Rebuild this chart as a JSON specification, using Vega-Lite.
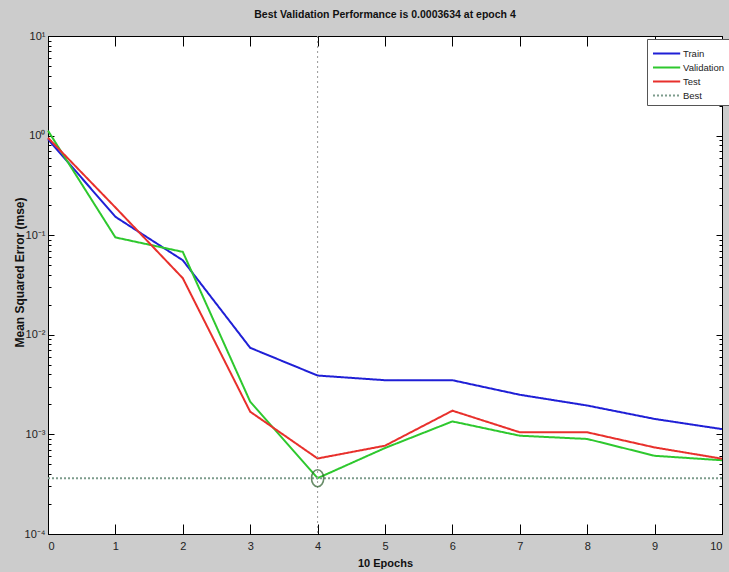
{
  "$schema": "https://vega.github.io/schema/vega-lite/v6.json",
  "width": 674,
  "height": 498,
  "autosize": {"type": "none"},
  "padding": {"left": 48, "top": 36, "right": 7, "bottom": 38},
  "background": "#cccccc",
  "view": {"fill": "white", "stroke": "black", "strokeWidth": 1},
  "config": {
    "font": "'Liberation Sans Narrow', 'Liberation Sans', Arial, sans-serif",
    "axis": {
      "grid": false,
      "domainColor": "black",
      "tickColor": "black",
      "labelColor": "#222222",
      "labelFontSize": 11,
      "titleColor": "#111111",
      "titleFontWeight": "bold",
      "titleFontSize": 11,
      "titleFont": "'Liberation Sans', Arial, sans-serif"
    },
    "legend": {
      "fillColor": "white",
      "strokeColor": "#555555",
      "padding": 5,
      "rowPadding": 0,
      "labelFontSize": 9.5,
      "labelColor": "#222222",
      "symbolStrokeWidth": 2
    }
  },
  "title": {
    "text": "Best Validation Performance is 0.0003634 at epoch 4",
    "fontSize": 10.5,
    "fontWeight": "bold",
    "color": "#111111",
    "offset": 10,
    "anchor": "middle"
  },
  "datasets": {
    "performance": [
      {"epoch": 0, "mse": 0.92, "series": "Train"},
      {"epoch": 1, "mse": 0.153, "series": "Train"},
      {"epoch": 2, "mse": 0.056, "series": "Train"},
      {"epoch": 3, "mse": 0.0074, "series": "Train"},
      {"epoch": 4, "mse": 0.0039, "series": "Train"},
      {"epoch": 5, "mse": 0.0035, "series": "Train"},
      {"epoch": 6, "mse": 0.0035, "series": "Train"},
      {"epoch": 7, "mse": 0.0025, "series": "Train"},
      {"epoch": 8, "mse": 0.00195, "series": "Train"},
      {"epoch": 9, "mse": 0.00143, "series": "Train"},
      {"epoch": 10, "mse": 0.00113, "series": "Train"},
      {"epoch": 0, "mse": 1.12, "series": "Validation"},
      {"epoch": 1, "mse": 0.095, "series": "Validation"},
      {"epoch": 2, "mse": 0.068, "series": "Validation"},
      {"epoch": 3, "mse": 0.00213, "series": "Validation"},
      {"epoch": 4, "mse": 0.0003634, "series": "Validation"},
      {"epoch": 5, "mse": 0.00073, "series": "Validation"},
      {"epoch": 6, "mse": 0.00135, "series": "Validation"},
      {"epoch": 7, "mse": 0.00097, "series": "Validation"},
      {"epoch": 8, "mse": 0.0009, "series": "Validation"},
      {"epoch": 9, "mse": 0.00061, "series": "Validation"},
      {"epoch": 10, "mse": 0.00055, "series": "Validation"},
      {"epoch": 0, "mse": 0.95, "series": "Test"},
      {"epoch": 1, "mse": 0.19, "series": "Test"},
      {"epoch": 2, "mse": 0.037, "series": "Test"},
      {"epoch": 3, "mse": 0.00169, "series": "Test"},
      {"epoch": 4, "mse": 0.000573, "series": "Test"},
      {"epoch": 5, "mse": 0.00077, "series": "Test"},
      {"epoch": 6, "mse": 0.00173, "series": "Test"},
      {"epoch": 7, "mse": 0.00105, "series": "Test"},
      {"epoch": 8, "mse": 0.00105, "series": "Test"},
      {"epoch": 9, "mse": 0.00074, "series": "Test"},
      {"epoch": 10, "mse": 0.00057, "series": "Test"},
      {"epoch": 0, "mse": 0.0003634, "series": "Best"},
      {"epoch": 10, "mse": 0.0003634, "series": "Best"}
    ],
    "bestEpoch": [{"epoch": 4, "mse": 0.0003634}]
  },
  "layer": [
    {
      "data": {"name": "performance"},
      "mark": {"type": "line", "strokeWidth": 2},
      "encoding": {
        "x": {
          "field": "epoch",
          "type": "quantitative",
          "scale": {"domain": [0, 10], "nice": false, "zero": false},
          "axis": {
            "orient": "bottom",
            "values": [0, 1, 2, 3, 4, 5, 6, 7, 8, 9, 10],
            "tickSize": -10,
            "labelPadding": 16,
            "title": "10 Epochs",
            "titleY": 29,
            "titleBaseline": "middle"
          }
        },
        "y": {
          "field": "mse",
          "type": "quantitative",
          "scale": {"type": "log", "domain": [0.0001, 10], "nice": false},
          "axis": {
            "orient": "left",
            "values": [0.0001, 0.0002, 0.0003, 0.0004, 0.0005, 0.0006, 0.0007, 0.0008, 0.0009,
                       0.001, 0.002, 0.003, 0.004, 0.005, 0.006, 0.007, 0.008, 0.009,
                       0.01, 0.02, 0.03, 0.04, 0.05, 0.06, 0.07, 0.08, 0.09,
                       0.1, 0.2, 0.3, 0.4, 0.5, 0.6, 0.7, 0.8, 0.9,
                       1, 2, 3, 4, 5, 6, 7, 8, 9, 10],
            "labelExpr": "datum.value == 10 ? '10¹' : datum.value == 1 ? '10⁰' : datum.value == 0.1 ? '10⁻¹' : datum.value == 0.01 ? '10⁻²' : datum.value == 0.001 ? '10⁻³' : datum.value == 0.0001 ? '10⁻⁴' : ''",
            "tickSize": {"condition": {"test": "indexof([0.0001, 0.001, 0.01, 0.1, 1, 10], datum.value) >= 0", "value": -6}, "value": -3},
            "labelPadding": 9,
            "labelOverlap": false,
            "title": "Mean Squared Error  (mse)",
            "titleFontSize": 12,
            "titleAngle": -90,
            "titleX": -29,
            "titleY": 236,
            "titleAlign": "center",
            "titleBaseline": "middle"
          }
        },
        "color": {
          "field": "series",
          "type": "nominal",
          "scale": {
            "domain": ["Train", "Validation", "Test", "Best"],
            "range": ["#1f1fd6", "#2ec82e", "#e8302c", "#7d9c8c"]
          },
          "legend": {
            "title": null,
            "orient": "none",
            "legendX": 599,
            "legendY": 3,
            "symbolType": "M-1,0H2.2",
            "symbolSize": 289,
            "labelOffset": 12
          }
        },
        "strokeDash": {
          "field": "series",
          "type": "nominal",
          "scale": {
            "domain": ["Train", "Validation", "Test", "Best"],
            "range": [[1, 0], [1, 0], [1, 0], [2, 2]]
          },
          "legend": {
            "title": null,
            "orient": "none",
            "legendX": 599,
            "legendY": 3,
            "symbolType": "M-1,0H2.2",
            "symbolSize": 289,
            "labelOffset": 12
          }
        },
        "strokeWidth": {
          "condition": {"test": "datum.series == 'Best'", "value": 1},
          "value": 2
        }
      }
    },
    {
      "data": {"name": "bestEpoch"},
      "mark": {"type": "rule", "color": "#999999", "strokeWidth": 1, "strokeDash": [2, 3]},
      "encoding": {
        "x": {"field": "epoch", "type": "quantitative", "axis": null}
      }
    },
    {
      "data": {"name": "bestEpoch"},
      "mark": {
        "type": "point",
        "shape": "M0,-1A0.72,1 0 1,1 0,1A0.72,1 0 1,1 0,-1Z",
        "size": 289,
        "filled": false,
        "stroke": "#2b5e2b",
        "strokeWidth": 1.6
      },
      "encoding": {
        "x": {
          "field": "epoch",
          "type": "quantitative",
          "axis": {
            "orient": "top",
            "values": [0, 1, 2, 3, 4, 5, 6, 7, 8, 9, 10],
            "tickSize": -10,
            "labels": false,
            "title": null
          }
        },
        "y": {
          "field": "mse",
          "type": "quantitative",
          "axis": {
            "orient": "right",
            "values": [0.0001, 0.0002, 0.0003, 0.0004, 0.0005, 0.0006, 0.0007, 0.0008, 0.0009,
                       0.001, 0.002, 0.003, 0.004, 0.005, 0.006, 0.007, 0.008, 0.009,
                       0.01, 0.02, 0.03, 0.04, 0.05, 0.06, 0.07, 0.08, 0.09,
                       0.1, 0.2, 0.3, 0.4, 0.5, 0.6, 0.7, 0.8, 0.9,
                       1, 2, 3, 4, 5, 6, 7, 8, 9, 10],
            "tickSize": {"condition": {"test": "indexof([0.0001, 0.001, 0.01, 0.1, 1, 10], datum.value) >= 0", "value": -6}, "value": -3},
            "labels": false,
            "title": null
          }
        }
      }
    }
  ],
  "resolve": {"axis": {"x": "independent", "y": "independent"}}
}
